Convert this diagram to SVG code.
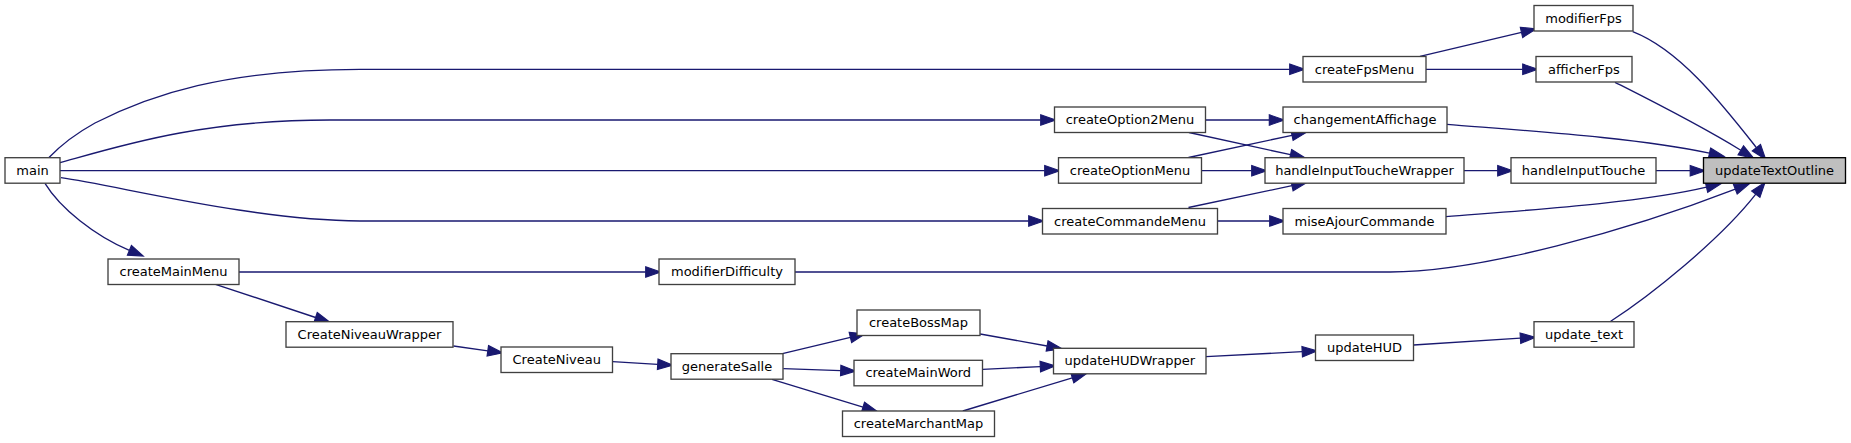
<svg xmlns="http://www.w3.org/2000/svg" width="1851" height="443" viewBox="0 0 1851 443">
<style>
.n rect{fill:#fff;stroke:#404040;stroke-width:1.33}
.root rect{fill:#bfbfbf;stroke:#000}
text{font-family:"DejaVu Sans","Liberation Sans",sans-serif;font-size:13px;text-anchor:middle;fill:#000}
.e path{fill:none;stroke:#191970;stroke-width:1.33;marker-end:url(#ah)}
</style>
<defs>
<marker id="ah" markerUnits="userSpaceOnUse" markerWidth="15" markerHeight="11" viewBox="0 0 13.3 9.3" refX="0" refY="4.65" orient="auto" overflow="visible">
<path d="M0,0 L13.3,4.65 L0,9.3 z" fill="#191970" stroke="#191970" stroke-width="1"/>
</marker>
</defs>
<rect width="1851" height="443" fill="#fff"/>
<g class="e" id="connectors">
<path d="M49,157.5 C60,146 75,134 95,123 C150,95 225,69.3 360,69.3 L1289.7,69.3"/>
<path d="M60,162.7 C120,146 200,120 330,120 L1040.7,120"/>
<path d="M60,170.7 L1044.7,170.7"/>
<path d="M61,177.7 C120,186 250,220 360,221 L1028.7,221"/>
<path d="M45,183.3 C60,208 95,236 129.4,250.3"/>
<path d="M1420,56.3 L1521.5,32.4"/>
<path d="M1426,69.3 L1522.7,69.3"/>
<path d="M1205.5,120 L1269.3,120"/>
<path d="M1189,132.5 L1290.5,154.7"/>
<path d="M1188.5,157.5 L1292,135.3"/>
<path d="M1201.5,170.7 L1251.7,170.7"/>
<path d="M1188.5,207.5 L1292,185.7"/>
<path d="M1217.7,221 L1269.7,221"/>
<path d="M1464,170.7 L1497.7,170.7"/>
<path d="M1656,170.7 L1690.2,170.7"/>
<path d="M1632.7,31.7 C1680,50 1722,104 1756.4,147.6"/>
<path d="M1615,82.3 C1650,100 1700,125 1740.8,150.3"/>
<path d="M1447,124.3 C1530,131 1640,138 1709.5,153.2"/>
<path d="M1446,216.7 C1530,210 1640,203 1706.5,187.2"/>
<path d="M795,272 L1390,272 C1480,272 1630,230 1735.3,189.2"/>
<path d="M1610,321.7 C1650,296 1720,240 1755.8,194.2"/>
<path d="M239,272 L645.7,272"/>
<path d="M215.5,284.3 L315.6,317.5"/>
<path d="M453.5,346 L487.8,350.8"/>
<path d="M612.5,361.7 L657.7,364.3"/>
<path d="M782.4,353.7 L850.4,337.4"/>
<path d="M783.3,368.7 L840.7,370.6"/>
<path d="M772,379.3 L863,407.1"/>
<path d="M980.2,334 L1047.1,346"/>
<path d="M982.7,369.3 L1040.3,366.6"/>
<path d="M962.8,411 L1072.3,377.9"/>
<path d="M1206,356.7 L1302.2,351.7"/>
<path d="M1413.5,345 L1520.4,338.2"/>
</g>
<g class="n root" id="updateTextOutline"><rect x="1703.5" y="157.7" width="142" height="25.5"/><text x="1774.5" y="174.7">updateTextOutline</text></g>
<g class="n" id="modifierFps"><rect x="1534" y="5.5" width="99" height="25.5"/><text x="1583.5" y="22.5">modifierFps</text></g>
<g class="n" id="createFpsMenu"><rect x="1303" y="56.5" width="123" height="25.5"/><text x="1364.5" y="73.5">createFpsMenu</text></g>
<g class="n" id="afficherFps"><rect x="1536" y="56.5" width="96" height="25.5"/><text x="1584" y="73.5">afficherFps</text></g>
<g class="n" id="createOption2Menu"><rect x="1054.5" y="107" width="151" height="25.5"/><text x="1130" y="124">createOption2Menu</text></g>
<g class="n" id="changementAffichage"><rect x="1283" y="107" width="164" height="25.5"/><text x="1365" y="124">changementAffichage</text></g>
<g class="n" id="main"><rect x="5" y="157.7" width="55" height="25.5"/><text x="32.5" y="174.7">main</text></g>
<g class="n" id="createOptionMenu"><rect x="1058.5" y="157.7" width="143" height="25.5"/><text x="1130" y="174.7">createOptionMenu</text></g>
<g class="n" id="handleInputToucheWrapper"><rect x="1265" y="157.7" width="199" height="25.5"/><text x="1364.5" y="174.7">handleInputToucheWrapper</text></g>
<g class="n" id="handleInputTouche"><rect x="1511" y="157.7" width="145" height="25.5"/><text x="1583.5" y="174.7">handleInputTouche</text></g>
<g class="n" id="createCommandeMenu"><rect x="1042.5" y="208.5" width="175" height="25.5"/><text x="1130" y="225.5">createCommandeMenu</text></g>
<g class="n" id="miseAjourCommande"><rect x="1283" y="208.5" width="163" height="25.5"/><text x="1364.5" y="225.5">miseAjourCommande</text></g>
<g class="n" id="createMainMenu"><rect x="108" y="259" width="131" height="25.5"/><text x="173.5" y="276">createMainMenu</text></g>
<g class="n" id="modifierDifficulty"><rect x="659" y="259" width="136" height="25.5"/><text x="727" y="276">modifierDifficulty</text></g>
<g class="n" id="createBossMap"><rect x="857" y="310" width="123" height="25.5"/><text x="918.5" y="327">createBossMap</text></g>
<g class="n" id="CreateNiveauWrapper"><rect x="286" y="321.7" width="167" height="25.5"/><text x="369.5" y="338.7">CreateNiveauWrapper</text></g>
<g class="n" id="update_text"><rect x="1534" y="321.7" width="100" height="25.5"/><text x="1584" y="338.7">update_text</text></g>
<g class="n" id="updateHUD"><rect x="1315.5" y="335" width="98" height="25.5"/><text x="1364.5" y="352">updateHUD</text></g>
<g class="n" id="CreateNiveau"><rect x="501" y="347" width="111.5" height="25.5"/><text x="556.75" y="364">CreateNiveau</text></g>
<g class="n" id="updateHUDWrapper"><rect x="1053.5" y="348.3" width="152.5" height="25.5"/><text x="1129.75" y="365.3">updateHUDWrapper</text></g>
<g class="n" id="generateSalle"><rect x="671" y="353.7" width="112" height="25.5"/><text x="727" y="370.7">generateSalle</text></g>
<g class="n" id="createMainWord"><rect x="854" y="360.3" width="128.5" height="25.5"/><text x="918.25" y="377.3">createMainWord</text></g>
<g class="n" id="createMarchantMap"><rect x="842.5" y="411" width="152" height="25.5"/><text x="918.5" y="428">createMarchantMap</text></g>
</svg>
